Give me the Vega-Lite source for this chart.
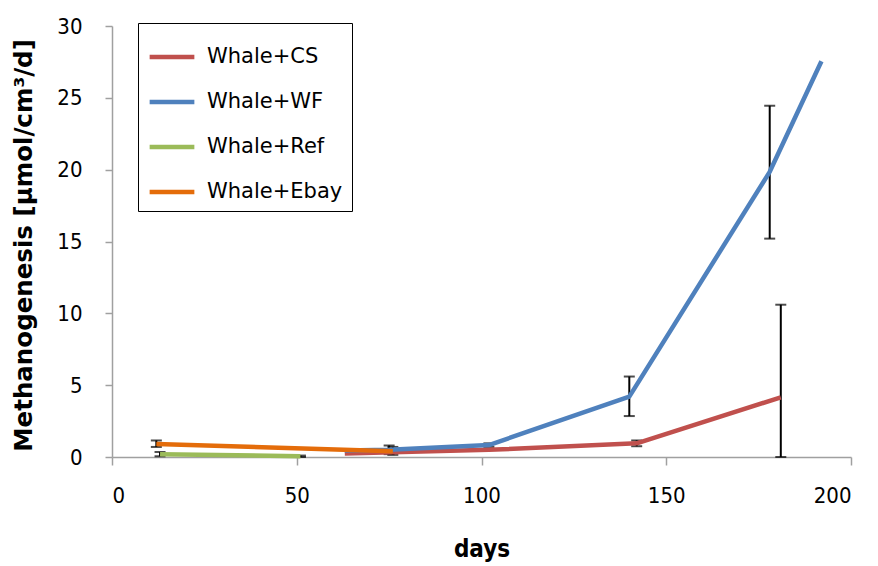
{
  "$schema": "https://vega.github.io/schema/vega-lite/v6.json",
  "width": 739,
  "height": 431,
  "autosize": "none",
  "padding": {"left": 112, "top": 26, "right": 27, "bottom": 109},
  "background": "white",
  "config": {"view": {"stroke": null}},
  "data": {"values": [
    {"series": "Whale+CS", "day": 63, "value": 0.25},
    {"series": "Whale+CS", "day": 102, "value": 0.5},
    {"series": "Whale+CS", "day": 142, "value": 0.95, "lo": 0.75, "hi": 1.15},
    {"series": "Whale+CS", "day": 181, "value": 4.15, "lo": 0, "hi": 10.6},
    {"series": "Whale+WF", "day": 63, "value": 0.45},
    {"series": "Whale+WF", "day": 75, "value": 0.5, "lo": 0.2, "hi": 0.8},
    {"series": "Whale+WF", "day": 102, "value": 0.83, "lo": 0.7, "hi": 0.95},
    {"series": "Whale+WF", "day": 140, "value": 4.2, "lo": 2.85, "hi": 5.6},
    {"series": "Whale+WF", "day": 178, "value": 19.85, "lo": 15.2, "hi": 24.45},
    {"series": "Whale+WF", "day": 192, "value": 27.55},
    {"series": "Whale+Ref", "day": 13, "value": 0.2, "lo": 0.05, "hi": 0.35},
    {"series": "Whale+Ref", "day": 51, "value": 0.05, "lo": 0, "hi": 0.1},
    {"series": "Whale+Ebay", "day": 12, "value": 0.9, "lo": 0.7, "hi": 1.15},
    {"series": "Whale+Ebay", "day": 76, "value": 0.4, "lo": 0.15, "hi": 0.7}
  ]},
  "encoding": {
    "x": {"field": "day", "type": "quantitative",
      "scale": {"domain": [0, 200], "nice": false, "zero": false},
      "axis": {"title": "days", "values": [0, 50, 100, 150, 200], "grid": false,
        "domainColor": "#a0a0a0", "domainWidth": 1.5, "tickColor": "#a0a0a0", "tickWidth": 1.5, "tickSize": 8,
        "labelFont": "'DejaVu Sans Condensed', 'Liberation Sans Narrow', Roboto, sans-serif", "labelFontSize": 22, "labelColor": "#000", "labelPadding": 20,
        "titleFont": "'DejaVu Sans Condensed', 'Liberation Sans Narrow', Roboto, sans-serif", "titleFontSize": 24, "titleFontWeight": "bold", "titleColor": "#000", "titlePadding": 31}},
    "y": {"type": "quantitative"}
  },
  "layer": [
    {
      "transform": [{"filter": "isValid(datum.hi)"}],
      "mark": {"type": "rule", "color": "black", "strokeWidth": 2},
      "encoding": {"y": {"field": "lo", "type": "quantitative"}, "y2": {"field": "hi"}}
    },
    {
      "transform": [{"filter": "isValid(datum.hi)"}],
      "mark": {"type": "tick", "orient": "horizontal", "color": "black", "thickness": 2, "size": 11},
      "encoding": {"y": {"field": "lo", "type": "quantitative"}}
    },
    {
      "transform": [{"filter": "isValid(datum.hi)"}],
      "mark": {"type": "tick", "orient": "horizontal", "color": "black", "thickness": 2, "size": 11},
      "encoding": {"y": {"field": "hi", "type": "quantitative"}}
    },
    {
      "mark": {"type": "line", "strokeWidth": 4.5, "strokeJoin": "round"},
      "encoding": {
        "y": {"field": "value", "type": "quantitative",
          "scale": {"domain": [0, 30], "nice": false},
          "axis": {"title": "Methanogenesis [µmol/cm³/d]", "values": [0, 5, 10, 15, 20, 25, 30], "grid": false,
            "domainColor": "#a0a0a0", "domainWidth": 1.5, "tickColor": "#a0a0a0", "tickWidth": 1.5, "tickSize": 7,
            "labelFont": "'DejaVu Sans Condensed', 'Liberation Sans Narrow', Roboto, sans-serif", "labelFontSize": 22, "labelColor": "#000", "labelPadding": 23,
            "titleFont": "DejaVu Sans", "titleFontSize": 24.5, "titleFontWeight": "bold", "titleColor": "#000", "titlePadding": 20, "titleY": 219}},
        "color": {"field": "series", "type": "nominal",
          "scale": {"domain": ["Whale+CS", "Whale+WF", "Whale+Ref", "Whale+Ebay"],
                    "range": ["#C0504D", "#4F81BD", "#9BBB59", "#E46C0A"]},
          "legend": {"title": null, "orient": "none", "legendX": 26, "legendY": -3,
            "symbolType": "stroke", "symbolStrokeWidth": 4.5, "symbolSize": 2000,
            "labelFont": "DejaVu Sans", "labelFontSize": 21, "labelColor": "#000", "labelOffset": 10,
            "rowPadding": 10, "padding": 9, "strokeColor": "black", "fillColor": "white"}}
      }
    }
  ]
}
